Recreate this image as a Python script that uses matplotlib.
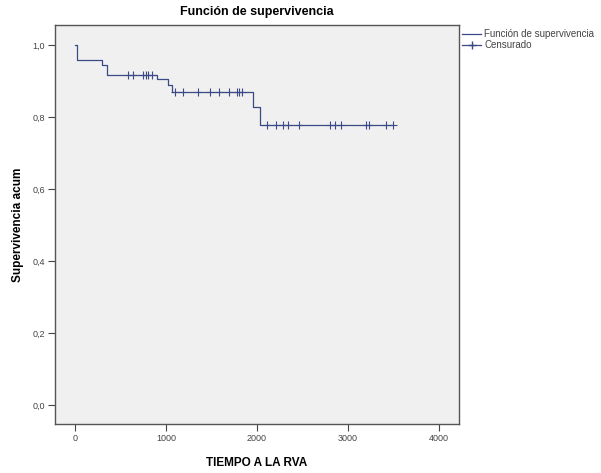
import numpy as np
import matplotlib
matplotlib.use("Agg")
import matplotlib.pyplot as plt
from matplotlib.lines import Line2D

plt.rcParams['font.family'] = ['Liberation Sans', 'DejaVu Sans']

# Kaplan-Meier step data
event_times = [0, 18, 293, 348, 898, 1022, 1062, 1953, 2033]
survival = [1.0, 0.958, 0.944, 0.917, 0.906, 0.889, 0.870, 0.827, 0.778]
end_time = 3498
censor_times = [586, 637, 747, 780, 802, 843, 1099, 1190, 1355, 1484, 1586, 1696,
                1777, 1805, 1832, 2107, 2209, 2289, 2340, 2465, 2802, 2857, 2923,
                3198, 3234, 3418, 3498]
x_ticks = [0, 1000, 2000, 3000, 4000]
y_ticks = [0.0, 0.2, 0.4, 0.6, 0.8, 1.0]
y_tick_labels = ["0,0", "0,2", "0,4", "0,6", "0,8", "1,0"]

line_color = "#3b4a86"

fig = plt.figure(figsize=(6.01, 4.73), dpi=100)
fig.patch.set_facecolor("white")
ax = fig.add_axes([0.0915, 0.1036, 0.672, 0.8435])
ax.set_facecolor("#f0f0f0")

xs = list(event_times) + [end_time]
ys = list(survival) + [survival[-1]]
ax.step(xs, ys, where="post", color=line_color, lw=0.9)

ct = np.array(censor_times)
idx = np.searchsorted(event_times, ct, side="right") - 1
cs = np.array(survival)[idx]
ax.plot(ct, cs, linestyle="none", marker="+", markersize=6, mew=0.8,
        color=line_color)

ax.set_xlim(-220, 4220)
ax.set_ylim(-0.053, 1.056)
ax.set_xticks(x_ticks)
ax.set_xticklabels([str(v) for v in x_ticks])
ax.set_yticks(y_ticks)
ax.set_yticklabels(y_tick_labels)
ax.tick_params(direction="out", length=5, width=0.8, labelsize=6.5,
               colors="#444444", pad=2)
for s in ax.spines.values():
    s.set_color("#555555")
    s.set_linewidth(1.0)

ax.set_title("Función de supervivencia", fontsize=9, fontweight="bold",
             pad=7)
ax.set_xlabel("TIEMPO A LA RVA", fontsize=8.5, fontweight="bold", labelpad=10)
ax.set_ylabel("Supervivencia acum", fontsize=8.5, fontweight="bold", labelpad=6)

handles = [Line2D([], [], color=line_color, lw=0.9, drawstyle="steps-post"),
           Line2D([], [], color=line_color, lw=0.9, marker="+", markersize=6)]
leg = fig.legend(handles, ["Función de supervivencia", "Censurado"],
                 loc="upper left", bbox_to_anchor=(0.762, 0.946), frameon=False,
                 fontsize=7.0, handlelength=2.0, handletextpad=0.3,
                 labelspacing=0.05, borderaxespad=0)
for t in leg.get_texts():
    t.set_color("#444444")

fig.savefig("out.png", dpi=100)
